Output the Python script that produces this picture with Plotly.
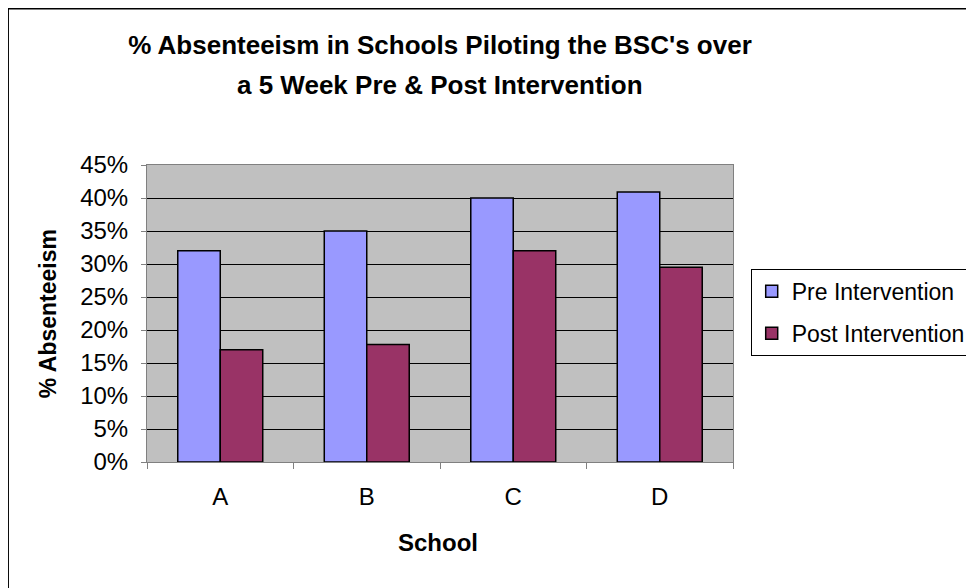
import plotly.graph_objects as go

schools = ["A", "B", "C", "D"]
pre_intervention = [0.32, 0.35, 0.40, 0.409]
post_intervention = [0.17, 0.178, 0.32, 0.295]
series_names = ["Pre Intervention", "Post Intervention"]
title_lines = ["% Absenteeism in Schools Piloting the BSC's over", "a 5 Week Pre & Post Intervention"]

FONT = "Liberation Sans, Arial, sans-serif"
OFF = 8  # page body margin offset

# target plot area in screen pixels
PL, PR, PT, PB = 147.3, 733.3, 165.0, 462.3
PW, PH = PR - PL, PB - PT

fig = go.Figure()
fig.add_trace(go.Bar(x=schools, y=pre_intervention, name=series_names[0], legendgroup="pre",
                     marker=dict(color="#9999FF", line=dict(color="black", width=1.5))))
fig.add_trace(go.Bar(x=schools, y=post_intervention, name=series_names[1], legendgroup="post",
                     marker=dict(color="#993366", line=dict(color="black", width=1.5))))

fig.update_layout(
    width=974, height=588,
    margin=dict(l=PL - OFF, r=974 - PR + OFF, t=PT - OFF, b=588 - PB + OFF, autoexpand=False),
    paper_bgcolor="white", plot_bgcolor="#C0C0C0",
    font=dict(family=FONT, size=24, color="black"),
    barmode="group", bargap=0.42, bargroupgap=0,
    title=dict(text="<b>" + title_lines[0] + "</b>", x=0.5, xref="paper", xanchor="center",
               y=1 - (45 - OFF) / 588, yref="container", yanchor="middle",
               font=dict(family=FONT, size=26, color="black")),
    legend=dict(x=(751 - PL) / PW, y=(PB - 269) / PH, xanchor="left", yanchor="top",
                bgcolor="white", bordercolor="black", borderwidth=1,
                traceorder="grouped", tracegroupgap=9,
                font=dict(family=FONT, size=23)),
    showlegend=True,
)
fig.update_xaxes(showline=True, linecolor="#808080", linewidth=1, mirror=True,
                 ticks="outside", ticklen=6, tickcolor="#808080", tickson="boundaries",
                 ticklabelstandoff=13, showgrid=False, tickfont=dict(size=24))
fig.update_yaxes(range=[0, 0.45], dtick=0.05, tickformat=".0%", showgrid=True,
                 gridcolor="black", gridwidth=1, zeroline=False, showline=True,
                 linecolor="#808080", linewidth=1, mirror=True, ticks="outside",
                 ticklen=5, tickcolor="#808080", ticklabelstandoff=8, tickfont=dict(size=24))

fig.add_annotation(text="<b>" + title_lines[1] + "</b>", xref="paper", yref="paper",
                   x=0.5, y=(PB - 85) / PH, xanchor="center", yanchor="middle",
                   showarrow=False, font=dict(family=FONT, size=26, color="black"))
fig.add_annotation(text="<b>% Absenteeism</b>", xref="paper", yref="paper",
                   x=(48 - PL) / PW, y=0.5, xanchor="center", yanchor="middle",
                   textangle=-90, showarrow=False, font=dict(family=FONT, size=23))
fig.add_annotation(text="<b>School</b>", xref="paper", yref="paper",
                   x=(438 - PL) / PW, y=(PB - 543) / PH, xanchor="center", yanchor="middle",
                   showarrow=False, font=dict(family=FONT, size=24))
fig.add_shape(type="rect", xref="paper", yref="paper",
              x0=(OFF + 0.5 - PL) / PW, x1=1.6, y0=-0.6, y1=(PB - OFF - 0.5) / PH,
              line=dict(color="black", width=1.5), fillcolor="rgba(0,0,0,0)", layer="below")

fig.write_html("out.html")
